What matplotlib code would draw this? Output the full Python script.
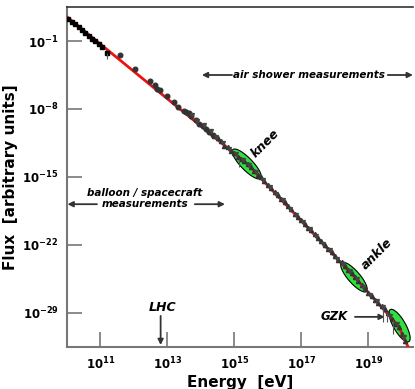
import numpy as np
import matplotlib
matplotlib.use("Agg")
import matplotlib.pyplot as plt

plt.rcParams['font.family'] = 'DejaVu Sans'
plt.rcParams['mathtext.default'] = 'bf'

# fitted spectrum (log10 E, log10 flux)
fit_logE = [10.0, 15.4, 18.6, 19.9, 20.2]
fit_logF = [1.5, -13.7, -25.35, -30.35, -32.6]

# balloon data (squares)
sq_logE = [10.05, 10.15, 10.25, 10.35, 10.45, 10.55, 10.65, 10.75, 10.85, 10.95, 11.05, 11.2]
sq_logF = [1.3, 1.0, 0.7, 0.45, 0.15, -0.15, -0.45, -0.75, -1.0, -1.3, -1.6, -2.2]

# spacecraft / direct data (dots)
dot_logE = [11.58, 12.03, 12.48, 12.63, 12.69, 12.78, 12.99, 13.19, 13.31, 13.49, 13.55,
            13.64, 13.72, 13.85, 13.95, 14.05, 14.15, 14.25, 14.35]
dot_logF = [-2.44, -3.88, -5.12, -5.53, -5.94, -6.04, -6.66, -7.28, -7.79, -8.2, -8.31,
            -8.41, -8.75, -9.1, -9.5, -9.75, -10.1, -10.35, -10.7]

# air shower data (triangles)
tri_logE = [14.4, 14.5, 14.6, 14.7, 14.8, 14.9, 15.0, 15.1, 15.2, 15.3, 15.4, 15.5, 15.6,
            15.7, 15.8, 15.9, 16.0, 16.1, 16.2, 16.3, 16.4, 16.5, 16.6, 16.7, 16.8, 16.9,
            17.0, 17.1, 17.2, 17.3, 17.4, 17.5, 17.6, 17.7, 17.8, 17.9, 18.0, 18.1, 18.2,
            18.3, 18.4, 18.5, 18.6, 18.7, 18.8, 18.9, 19.0, 19.1, 19.2, 19.3, 19.4, 19.5,
            19.6, 19.7, 19.8, 19.9, 20.0, 20.1]
tri_logF = [-10.8, -11.0, -11.3, -11.8, -11.9, -12.3, -12.5, -12.9, -13.1, -13.4, -13.7,
            -14.0, -14.4, -14.8, -15.0, -15.4, -15.8, -16.1, -16.5, -16.9, -17.3, -17.6,
            -18.0, -18.3, -18.8, -19.1, -19.4, -19.8, -20.2, -20.5, -20.9, -21.3, -21.6,
            -22.0, -22.4, -22.7, -23.1, -23.5, -23.8, -24.2, -24.6, -24.9, -25.3, -25.7,
            -26.1, -26.5, -26.9, -27.2, -27.7, -28.0, -28.3, -28.6, -29.0, -29.6, -30.1,
            -30.4, -31.2, -31.9]
tri2_logE = [13.75, 13.9, 14.1, 14.3, 14.45, 14.65, 14.85, 15.05, 15.25, 15.45, 15.65,
             15.85, 16.05, 16.25, 16.45, 16.65, 16.85, 17.05, 17.25, 17.45, 17.65, 17.85,
             18.05, 18.25, 18.45, 18.65, 18.85, 19.05, 19.25, 19.45, 19.65, 19.85, 20.05]
tri2_logF = [-8.6, -9.2, -9.6, -10.3, -10.9, -11.5, -12.1, -12.6, -13.3, -13.8, -14.5,
             -15.3, -16.0, -16.7, -17.4, -18.3, -18.9, -19.6, -20.4, -21.1, -21.9, -22.5,
             -23.4, -24.0, -24.7, -25.5, -26.3, -27.1, -27.8, -28.4, -29.3, -30.1, -31.5]

# a few points with error bars (log E, log F, lower error in decades)
err_logE = [11.2, 15.15, 19.45, 19.55, 19.75]
err_logF = [-2.2, -13.1, -28.6, -28.9, -29.7]
err_down = [0.7, 0.9, 1.3, 1.0, 1.5]

# features: (log E, log F, half-length px, half-width px, angle deg)
feat_names = ['knee', 'ankle', 'GZK']
feat_logE = [15.37, 18.57, 19.93]
feat_logF = [-13.66, -25.3, -30.3]
feat_len = [20, 19, 18.5]
feat_wid = [6, 6, 6]
feat_ang = [-46, -49, -60]

px_per_dec_x = 33.5
px_per_dec_y = 9.71

fig = plt.figure(figsize=(4.15, 3.89), dpi=100)
ax = fig.add_axes([0.161, 0.108, 0.834, 0.874])

# ellipses
t = np.linspace(0, 2 * np.pi, 100)
for e, f, a, b, ang in zip(feat_logE, feat_logF, feat_len, feat_wid, feat_ang):
    th = np.radians(ang)
    px = a * np.cos(t) * np.cos(th) - b * np.sin(t) * np.sin(th)
    py = a * np.cos(t) * np.sin(th) + b * np.sin(t) * np.cos(th)
    ax.fill(10 ** (e + px / px_per_dec_x), 10 ** (f + py / px_per_dec_y),
            facecolor='#2ee040', edgecolor='black', lw=0.8, zorder=2)

ax.plot(10 ** np.array(fit_logE), 10 ** np.array(fit_logF), color='#ee1111', lw=2, zorder=3)

ax.plot(10 ** np.array(sq_logE), 10 ** np.array(sq_logF), 's', color='black', ms=3.3, zorder=4)
ax.plot(10 ** np.array(dot_logE), 10 ** np.array(dot_logF), 'o', color='#333333', ms=3.3, zorder=4)
ax.plot(10 ** np.array(tri_logE), 10 ** np.array(tri_logF), '^', color='#333333', ms=3.0, zorder=4)
ax.plot(10 ** np.array(tri2_logE), 10 ** np.array(tri2_logF), 'v', color='#444444', ms=2.8, zorder=4)

ee = 10 ** np.array(err_logE)
ff = 10 ** np.array(err_logF)
lo = ff - 10 ** (np.array(err_logF) - np.array(err_down))
ax.errorbar(ee, ff, yerr=[lo, np.zeros_like(lo)], fmt='none', ecolor='#555555', lw=0.8, zorder=4)

ax.set_xscale('log')
ax.set_yscale('log')
ax.set_xlim(1e10, 10 ** 20.33)
ax.set_ylim(10 ** -32.5, 10 ** 2.5)

xticks = [1e11, 1e13, 1e15, 1e17, 1e19]
xtick_labels = [r'$10^{11}$', r'$10^{13}$', r'$10^{15}$', r'$10^{17}$', r'$10^{19}$']
yticks = [1e-1, 1e-8, 1e-15, 1e-22, 1e-29]
ytick_labels = [r'$10^{-1}$', r'$10^{-8}$', r'$10^{-15}$', r'$10^{-22}$', r'$10^{-29}$']
ax.set_xticks(xticks)
ax.set_xticklabels(xtick_labels)
ax.set_yticks(yticks)
ax.set_yticklabels(ytick_labels)
ax.minorticks_off()
ax.tick_params(direction='in', length=11, width=1.2, color='#777777', labelsize=8.5, pad=6)

for s in ['left', 'bottom']:
    ax.spines[s].set_color('#777777')
    ax.spines[s].set_linewidth(1.5)
ax.spines['top'].set_color('#333333')
ax.spines['top'].set_linewidth(1.2)
ax.spines['right'].set_visible(False)

ax.set_xlabel('Energy  [eV]', fontsize=11, fontweight='bold')
ax.set_ylabel('Flux  [arbitrary units]', fontsize=11, fontweight='bold')
ax.xaxis.set_label_coords(0.5, -0.082)
ax.yaxis.set_label_coords(-0.14, 0.5)

ak = dict(arrowstyle='-|>', color='#333333', lw=1.3, mutation_scale=8, shrinkA=0, shrinkB=0)
txt = dict(fontweight='bold', fontstyle='italic', ha='center', va='center')

# air shower
ax.text(10 ** 17.22, 10 ** -4.5, 'air shower measurements', fontsize=7.5, **txt)
ax.annotate('', xy=(10 ** 14.03, 10 ** -4.5), xytext=(10 ** 14.93, 10 ** -4.5), arrowprops=ak)
ax.annotate('', xy=(10 ** 20.33, 10 ** -4.5), xytext=(10 ** 19.58, 10 ** -4.5), arrowprops=ak)

# balloon
ax.text(10 ** 12.33, 10 ** -16.6, 'balloon / spacecraft', fontsize=7.5, **txt)
ax.text(10 ** 12.33, 10 ** -17.8, 'measurements', fontsize=7.5, **txt)
ax.annotate('', xy=(10 ** 10.02, 10 ** -17.8), xytext=(10 ** 10.9, 10 ** -17.8), arrowprops=ak)
ax.annotate('', xy=(10 ** 14.72, 10 ** -17.8), xytext=(10 ** 13.82, 10 ** -17.8), arrowprops=ak)

# LHC
ax.text(10 ** 12.87, 10 ** -28.4, 'LHC', fontsize=9, **txt)
ax.annotate('', xy=(10 ** 12.8, 10 ** -32.3), xytext=(10 ** 12.8, 10 ** -29.3), arrowprops=ak)

# GZK
ax.text(10 ** 17.98, 10 ** -29.4, 'GZK', fontsize=8.5, **txt)
ax.annotate('', xy=(10 ** 19.49, 10 ** -29.4), xytext=(10 ** 18.6, 10 ** -29.4), arrowprops=ak)

# knee / ankle
ax.text(10 ** 15.91, 10 ** -11.5, 'knee', fontsize=9, rotation=45, **txt)
ax.text(10 ** 19.25, 10 ** -22.9, 'ankle', fontsize=9, rotation=45, **txt)

fig.savefig('out.png', dpi=100)
